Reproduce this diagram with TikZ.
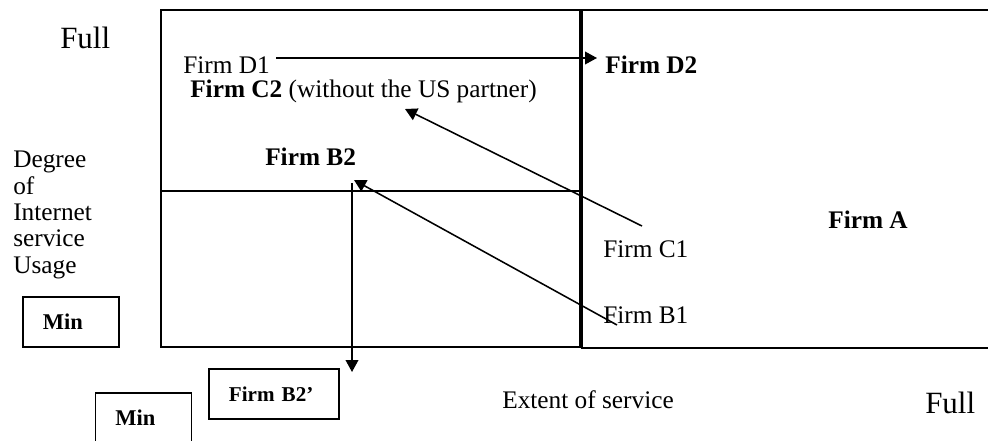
\documentclass[tikz,border=0pt]{standalone}
\usepackage{fontspec}
\setmainfont{Liberation Serif}
\usepackage{tikz}
\usetikzlibrary{arrows.meta}
\tikzset{
	label_txt/.style = {
		inner sep=0pt,
		anchor=base west,
		font=\fontsize{18}{21}\selectfont
	},
	label_bold/.style = {
		label_txt,
		font=\fontsize{18}{21}\selectfont\bfseries
	},
	label_full/.style = {
		label_txt,
		font=\fontsize{22}{26}\selectfont
	},
	label_axis/.style = {
		inner sep=0pt,
		anchor=north west,
		align=left,
		font=\fontsize{18}{18.7}\selectfont
	},
	box_min/.style = {
		draw=black,
		line width=1.2pt,
		inner xsep=0.5cm,
		text width=1.4cm,
		align=left,
		minimum height=1.25cm,
		font=\fontsize{16}{18}\selectfont\bfseries
	},
	box_firm/.style = {
		box_min,
		text width=2.25cm,
		font=\fontsize{15}{17}\selectfont\bfseries
	},
	frame/.style = {
		line width=1.2pt
	},
	frame_thick/.style = {
		line width=2.4pt
	},
	move/.style = {
		line width=1.1pt,
		-{Triangle[length=8.5pt,width=9pt]}
	}
}

\begin{document}
\begin{tikzpicture}[x=0.025cm, y=-0.025cm]
\useasboundingbox (0,0) rectangle (988,441);
\clip (0,0) rectangle (988,441);

% quadrants
\draw [frame] (988,10) -- (161,10) -- (161,347) -- (581,347);
\draw [frame] (161,191) -- (581,191);
\draw [frame] (581,348) -- (988,348);
\draw [line width=0.6pt, double, double distance=0.8pt] (581,192) -- (988,192);
\draw [frame_thick] (581,10) -- (581,348);

% axis labels
\node [label_full] (full_y) at (60,48) {Full};
\node [label_full] (full_x) at (925,413) {Full};
\node [label_axis] (usage) at (13,151) {Degree\\of\\Internet\\service\\Usage};
\node [label_txt] (extent) at (502,408) {Extent of service};
\node [box_min] (min_y) at (71,322) {Min};
\node [box_min] (min_x) at (143.5,418) {Min};
\node [box_firm] (b2_dash) at (274,394) {Firm B2'};

% firms
\node [label_txt] (d1) at (183,73) {Firm D1};
\node [label_bold] (d2) at (605,73) {Firm D2};
\node [label_txt] (c2) at (190,97) {\textbf{Firm C2} (without the US partner)};
\node [label_bold] (b2) at (265,165) {Firm B2};
\node [label_bold] (a) at (828,228) {Firm A};
\node [label_txt] (c1) at (603,257) {Firm C1};
\node [label_txt] (b1) at (603,323) {Firm B1};

% moves
\coordinate (d1_tail) at (276,58);
\coordinate (d2_head) at (597,58);
\coordinate (c1_tail) at (642,226);
\coordinate (c2_head) at (405,109);
\coordinate (b1_tail) at (617,325);
\coordinate (b2_head) at (354,180);
\coordinate (b2_tail) at (352,183);
\coordinate (b2_dash_head) at (352,372);
\draw [move] (d1_tail) -- (d2_head);
\draw [move] (c1_tail) -- (c2_head);
\draw [move] (b1_tail) -- (b2_head);
\draw [move] (b2_tail) -- (b2_dash_head);
\end{tikzpicture}
\end{document}
